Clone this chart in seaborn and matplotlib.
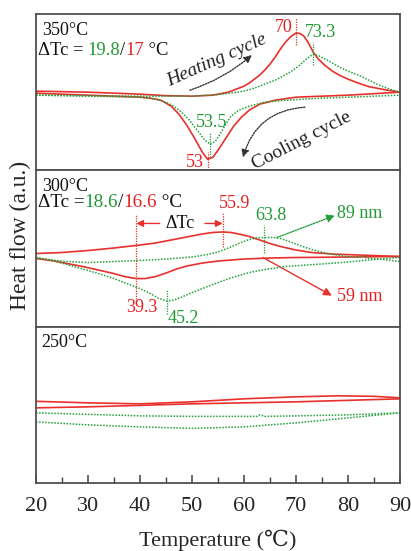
import numpy as np
import pandas as pd
import matplotlib
matplotlib.use("Agg")
import matplotlib.pyplot as plt
from matplotlib.patches import FancyArrowPatch
from matplotlib.ticker import MultipleLocator
import seaborn as sns

sns.set_style("ticks")
plt.rcParams["font.family"] = ["Liberation Serif", "DejaVu Serif"]

RED = "#e8302c"
GREEN = "#23a03a"
TRED = "#e62020"
TGREEN = "#1f9a35"

# ---------------- data (heat flow, a.u.) ----------------
# 350 C panel
p1_red_heat_T = [20, 30, 40, 45, 50, 54, 57, 60, 61, 62, 63, 64, 65, 66, 67, 68, 69, 70, 70.8, 71.5,
                 72.3, 73.3, 74.3, 75.5, 77, 78.5, 80, 82, 84, 87, 90]
p1_red_heat_y = [79, 78, 76, 74.5, 74, 75, 78, 84, 87, 91, 95, 100, 106, 113, 121, 128, 133.5, 137, 136.5, 134,
                 128, 118, 111, 105, 99, 94.5, 91, 87, 83.5, 80.5, 78]
p1_red_cool_T = [20, 30, 40, 42, 44, 46, 47.5, 49, 50.5, 52, 53, 54, 55, 56.5, 58, 59.5, 61, 63, 66, 70, 80, 90]
p1_red_cool_y = [77, 75, 73, 72, 70, 64, 56, 45, 32, 18, 11, 13, 20, 32, 44, 53, 60, 66, 70, 73, 75, 78]
p1_grn_heat_T = [20, 40, 50, 55, 58, 60, 62, 64, 66, 67.5, 69, 70.5, 72, 73.3, 74.5, 76, 78, 80, 82, 84, 86, 88, 90]
p1_grn_heat_y = [75, 74, 74, 75.5, 77.5, 79, 82, 86, 90, 94, 98.5, 104, 111, 116, 114, 110, 104, 99, 95, 90, 85, 81, 78]
p1_grn_cool_T = [20, 30, 40, 43, 45, 46.5, 48, 49.5, 51, 52.5, 53.5, 54.5, 55.5, 56.5, 57.5, 59, 61, 64, 68, 75, 90]
p1_grn_cool_y = [75, 74, 73, 71, 68, 64, 58, 50, 40, 30, 26, 29, 37, 46, 54, 60, 64, 68, 70, 72, 75]

# 300 C panel
p2_red_heat_T = [20, 25, 30, 35, 40, 43, 46, 49, 52, 54, 55.9, 57.5, 59, 61, 63, 65, 67, 70, 73, 77, 82, 90]
p2_red_heat_y = [73, 74, 76, 78.5, 81.5, 83.5, 86.5, 89.5, 92.5, 94, 94.5, 94, 92.5, 90, 86.5, 83, 80, 76.5, 74,
                 72.5, 71.5, 70]
p2_red_cool_T = [20, 23, 26, 29, 32, 35, 37, 39.3, 41, 43, 45, 47, 49, 52, 55, 60, 65, 70, 80, 90]
p2_red_cool_y = [68, 66, 63, 60, 56.5, 53, 50, 48, 48, 50, 53.5, 57.5, 60.5, 63.5, 65.5, 67.5, 68.5, 69, 69.5, 70]
p2_grn_heat_T = [20, 23, 26, 30, 35, 40, 45, 50, 53, 55, 57, 59, 61, 62.5, 63.8, 65.5, 67, 69, 71, 73, 76, 79,
                 82, 82.7, 83.5, 86, 90]
p2_grn_heat_y = [69, 66.5, 65, 64, 65, 66, 67.5, 69.5, 72, 74.5, 78.5, 83, 87, 88.5, 89, 89, 88, 84.5, 80.5, 77,
                 73, 70.5, 69, 71, 68.5, 67.5, 65]
p2_grn_cool_T = [20, 23, 26, 29, 32, 35, 38, 40, 42, 43.5, 45.2, 46.5, 48, 50, 52, 55, 58, 61, 64, 68, 72, 76,
                 80, 84, 87, 90]
p2_grn_cool_y = [69, 66, 62, 57.5, 53, 48, 42, 38, 33, 28.5, 25.5, 26.5, 29.5, 34, 38, 44, 49.5, 54, 57, 60,
                 61.5, 63, 64.5, 66.5, 68, 69]

# 250 C panel
p3_red_a_T = [20, 30, 40, 50, 60, 70, 78, 85, 90]
p3_red_a_y = [81.5, 80, 79, 81, 84, 86, 87, 86.5, 85]
p3_red_b_T = [20, 30, 40, 50, 60, 70, 80, 90]
p3_red_b_y = [75, 76, 77.5, 79, 80, 81, 82.5, 84]
p3_grn_a_T = [20, 30, 40, 50, 60, 62.5, 63, 64, 70, 80, 90]
p3_grn_a_y = [70, 68.5, 67, 66.5, 66.5, 66.5, 68, 66.5, 67, 68, 70]
p3_grn_b_T = [20, 30, 40, 50, 60, 70, 80, 90]
p3_grn_b_y = [61, 58, 56, 54.5, 56, 60, 65, 70]

x_ticks = [20, 30, 40, 50, 60, 70, 80, 90]

# ---------------- figure ----------------
fig, axes = plt.subplots(3, 1, figsize=(4.11, 5.51), dpi=100, sharex=True)
fig.subplots_adjust(left=0.0876, right=0.9732, top=0.9746, bottom=0.1234, hspace=0)

DOT = (0, (1, 1))


def curve(ax, T, y, color, dotted):
    df = pd.DataFrame({"T": T, "y": y})
    sns.lineplot(data=df, x="T", y="y", ax=ax, color=color, sort=False,
                 estimator=None, lw=1.2 if not dotted else 1.1,
                 linestyle=DOT if dotted else "-")


def vline(ax, x, y0, y1, color):
    ax.plot([x, x], [y0, y1], color=color, lw=0.9, linestyle=DOT)


def arrow(ax, a, b, color, ls="-", rad=0.0, ms=12, lw=1.0):
    p = FancyArrowPatch(a, b, connectionstyle=f"arc3,rad={rad}", arrowstyle="-|>",
                        mutation_scale=ms, color=color, lw=lw, linestyle=ls,
                        shrinkA=0, shrinkB=0)
    ax.add_patch(p)


for ax in axes:
    ax.set_xlim(20, 90)
    ax.set_ylim(0, 156)
    ax.set_yticks([])
    ax.set_ylabel("")
    ax.set_xlabel("")
    for s in ax.spines.values():
        s.set_visible(True)
        s.set_color("#505050")
        s.set_linewidth(1.3)

ax1, ax2, ax3 = axes
fs = 13

# panel 1
curve(ax1, p1_red_heat_T, p1_red_heat_y, RED, False)
curve(ax1, p1_red_cool_T, p1_red_cool_y, RED, False)
curve(ax1, p1_grn_heat_T, p1_grn_heat_y, GREEN, True)
curve(ax1, p1_grn_cool_T, p1_grn_cool_y, GREEN, True)
vline(ax1, 70, 125, 152, RED)
vline(ax1, 73.3, 105, 128, GREEN)
vline(ax1, 53.5, 13, 38, GREEN)
vline(ax1, 53, 0, 18, RED)
ax1.text(69.4, 143, "70", color=TRED, fontsize=fs, ha="right", va="center")
ax1.text(74.8, 138, "73.3", color=TGREEN, fontsize=fs, ha="center", va="center")
ax1.text(53.7, 48, "53.5", color=TGREEN, fontsize=fs, ha="center", va="center")
ax1.text(50.6, 8, "53", color=TRED, fontsize=fs, ha="center", va="center")
ax1.text(54.8, 110, "Heating cycle", fontsize=14, style="italic", rotation=24,
         ha="center", va="center", color="#222222", rotation_mode="anchor")
ax1.text(71.0, 30, "Cooling cycle", fontsize=14, rotation=27,
         ha="center", va="center", color="#222222", rotation_mode="anchor")
arrow(ax1, (49.6, 80), (61.5, 115), "#333333", ls=DOT, rad=0.1, ms=11)
arrow(ax1, (71.7, 63), (59.8, 13), "#333333", ls=DOT, rad=0.35, ms=11)

# panel 2
curve(ax2, p2_red_heat_T, p2_red_heat_y, RED, False)
curve(ax2, p2_red_cool_T, p2_red_cool_y, RED, False)
curve(ax2, p2_grn_heat_T, p2_grn_heat_y, GREEN, True)
curve(ax2, p2_grn_cool_T, p2_grn_cool_y, GREEN, True)
vline(ax2, 39.3, 23, 111, RED)
vline(ax2, 55.9, 79, 113, RED)
vline(ax2, 63.8, 74, 101, GREEN)
vline(ax2, 45.2, 13, 38, GREEN)
arrow(ax2, (43.8, 103), (39.3, 103), RED, ms=10)
arrow(ax2, (52.5, 103), (55.9, 103), RED, ms=10)
ax2.text(47.7, 103, "ΔTc", fontsize=fs, ha="center", va="center", color="#111111")
ax2.text(58.1, 123, "55.9", color=TRED, fontsize=fs, ha="center", va="center")
ax2.text(65.2, 111, "63.8", color=TGREEN, fontsize=fs, ha="center", va="center")
ax2.text(77.9, 113, "89 nm", color=TGREEN, fontsize=fs, ha="left", va="center")
ax2.text(77.9, 30, "59 nm", color=TRED, fontsize=fs, ha="left", va="center")
ax2.text(40.4, 19, "39.3", color=TRED, fontsize=fs, ha="center", va="center")
ax2.text(48.3, 8, "45.2", color=TGREEN, fontsize=fs, ha="center", va="center")
arrow(ax2, (66.35, 89), (77.5, 111), GREEN, ls=DOT, ms=12)
arrow(ax2, (63.65, 69), (76.9, 31), RED, ms=12)

# panel 3
curve(ax3, p3_red_a_T, p3_red_a_y, RED, False)
curve(ax3, p3_red_b_T, p3_red_b_y, RED, False)
curve(ax3, p3_grn_a_T, p3_grn_a_y, GREEN, True)
curve(ax3, p3_grn_b_T, p3_grn_b_y, GREEN, True)

# panel titles
for ax, lab in zip(axes, ["350°C", "300°C", "250°C"]):
    ax.text(21.1, 140, lab, fontsize=fs, ha="left", va="center", color="#111111")

# multicoloured delta-Tc lines
fig.canvas.draw()
renderer = fig.canvas.get_renderer()


def colored(ax, x, y, parts, size):
    px, py = ax.transData.transform((x, y))
    for s, c in parts:
        t = fig.text(px / fig.dpi, py / fig.dpi, s, color=c, fontsize=size,
                     ha="left", va="center", transform=fig.dpi_scale_trans)
        bb = t.get_window_extent(renderer)
        px += bb.width


colored(ax1, 20.3, 120, [("ΔTc = ", "#111111"), ("19.8", TGREEN), ("/", "#111111"),
                         ("17", TRED), (" °C", "#111111")], 13.4)
colored(ax2, 20.3, 124, [("ΔTc =", "#111111"), ("18.6", TGREEN), ("/", "#111111"),
                         ("16.6", TRED), (" °C", "#111111")], 13.8)

# ticks
for ax in (ax1, ax2):
    ax.tick_params(axis="x", which="both", length=0, labelbottom=False)
ax3.set_xticks(x_ticks)
ax3.xaxis.set_minor_locator(MultipleLocator(5))
ax3.tick_params(axis="x", which="major", direction="in", length=6, width=1.1,
                labelsize=16, pad=10, color="#404040", top=False)
ax3.tick_params(axis="x", which="minor", direction="in", length=4, width=1.0,
                color="#404040", top=False)
ax3.set_xlabel("Temperature (℃)", fontsize=16, labelpad=10)
fig.text(0.05, 0.573, "Heat flow (a.u.)", rotation=90, fontsize=17,
         ha="center", va="center")

fig.savefig("out.png", dpi=100)
